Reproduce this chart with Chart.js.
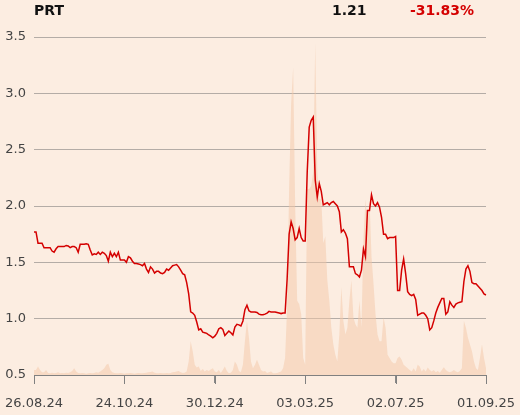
<!DOCTYPE html>
<html>
<head>
<meta charset="utf-8">
<script src="https://cdn.jsdelivr.net/npm/chart.js@4"></script>
<style>
  html, body { margin: 0; padding: 0; background: #fcede1; }
  #wrap { position: relative; width: 520px; height: 415px; }
  canvas { position: absolute; left: 0; top: 0; }
  .hdr { position: absolute; top: 1px; font-family: "DejaVu Sans", sans-serif; font-weight: bold; font-size: 14px; line-height: 18px; }
</style>
</head>
<body>
<div id="wrap">
  <canvas id="c" width="520" height="415"></canvas>
  <div class="hdr" id="sym" style="left:34px;color:#111;">PRT</div>
  <div class="hdr" id="last" style="left:332px;color:#111;">1.21</div>
  <div class="hdr" id="chg" style="left:410px;color:#d40000;">-31.83%</div>
</div>
<script>
const tickLabels = ["26.08.24", "24.10.24", "30.12.24", "03.03.25", "02.07.25", "01.09.25"];
const tickIndex = [0, 45, 90, 135, 180, 225];

const price = [
1.77,1.77,1.67,1.67,1.67,1.63,1.63,1.63,1.63,1.60,
1.59,1.62,1.64,1.64,1.64,1.64,1.65,1.645,1.63,1.64,
1.64,1.63,1.59,1.66,1.66,1.66,1.665,1.66,1.61,1.565,
1.575,1.57,1.59,1.57,1.59,1.58,1.56,1.51,1.59,1.55,
1.58,1.55,1.59,1.52,1.52,1.52,1.50,1.55,1.54,1.51,
1.49,1.49,1.485,1.48,1.47,1.49,1.44,1.41,1.46,1.44,
1.405,1.42,1.42,1.405,1.40,1.41,1.44,1.43,1.45,1.47,
1.475,1.48,1.46,1.43,1.40,1.39,1.32,1.22,1.06,1.05,
1.03,0.97,0.90,0.91,0.88,0.875,0.87,0.855,0.845,0.83,
0.845,0.87,0.91,0.92,0.905,0.85,0.87,0.89,0.875,0.855,
0.925,0.95,0.945,0.935,0.98,1.08,1.12,1.07,1.06,1.06,
1.06,1.055,1.04,1.035,1.035,1.04,1.05,1.065,1.06,1.06,
1.06,1.055,1.05,1.045,1.05,1.05,1.35,1.75,1.86,1.80,
1.70,1.72,1.80,1.72,1.69,1.69,2.30,2.70,2.76,2.79,
2.23,2.08,2.20,2.13,2.01,2.02,2.03,2.01,2.03,2.04,
2.02,2.00,1.95,1.77,1.79,1.76,1.71,1.46,1.46,1.46,
1.40,1.39,1.37,1.43,1.62,1.55,1.96,1.96,2.10,2.02,
2.00,2.03,1.99,1.90,1.75,1.75,1.71,1.72,1.72,1.72,
1.73,1.25,1.25,1.43,1.53,1.40,1.24,1.215,1.205,1.215,
1.17,1.03,1.04,1.05,1.05,1.03,1.00,0.90,0.92,0.98,
1.05,1.10,1.14,1.18,1.18,1.04,1.06,1.15,1.12,1.10,
1.13,1.14,1.145,1.15,1.33,1.44,1.47,1.42,1.32,1.31,
1.31,1.29,1.27,1.25,1.22,1.21
];

const volume = [
1.5,1.5,2.5,1.5,0.8,0.8,1.5,0.6,0.5,0.7,
0.5,0.6,0.8,0.5,0.6,0.5,0.7,0.6,0.8,1.2,
2.0,1.0,0.6,0.5,0.6,0.5,0.4,0.5,0.6,0.5,
0.6,0.8,0.7,1.0,1.5,2.0,3.0,3.3,1.5,0.8,
0.6,0.5,0.5,0.6,0.5,0.4,0.5,0.5,0.6,0.5,
0.4,0.5,0.6,0.5,0.5,0.6,0.7,0.8,0.9,1.0,
0.7,0.5,0.5,0.6,0.5,0.5,0.6,0.5,0.6,0.8,
0.9,1.0,1.2,0.8,0.6,0.7,1.0,4.0,10.0,7.0,
3.0,2.2,2.5,1.2,1.8,1.0,1.5,1.2,1.6,2.0,
1.0,0.8,1.5,0.6,1.5,2.5,1.2,0.5,0.7,1.5,
4.0,3.0,1.2,0.8,3.0,10.0,16.0,11.0,4.0,2.0,
3.0,4.5,3.0,1.5,1.0,1.2,0.6,0.8,1.0,0.5,
0.5,0.6,0.8,1.0,2.0,5.0,20.0,55.0,80.0,91.0,
50.0,22.0,21.0,18.0,5.0,3.0,55.0,55.0,56.0,60.0,
98.0,60.0,52.0,52.0,39.0,41.0,28.0,22.0,14.0,9.0,
6.0,4.0,12.0,26.0,16.0,12.0,14.0,22.0,28.0,17.0,
15.0,14.0,22.0,14.0,40.0,52.0,44.0,52.0,35.0,27.0,
18.0,12.0,10.0,10.0,17.0,14.0,6.0,5.0,4.0,3.5,
3.5,5.0,5.5,4.5,3.0,2.5,2.0,1.5,1.0,2.0,
1.0,3.0,2.5,1.0,1.8,1.0,2.2,1.5,1.0,1.5,
0.8,1.2,0.7,1.5,2.3,1.5,1.0,0.8,1.0,1.5,
1.0,0.8,1.2,2.0,16.0,14.0,11.0,9.0,7.0,4.0,
2.0,1.5,5.0,9.0,5.0,2.0
];

const labels = price.map((_, i) => i);
const tickFont = { family: "DejaVu Sans", size: 13 };

// Reinforces the x-axis tick marks at the x scale's own tick positions
const xTickMarks = {
  id: 'xTickMarks',
  afterDraw(chart) {
    const s = chart.scales.x;
    const ctx = chart.ctx;
    ctx.save();
    ctx.strokeStyle = '#808080';
    ctx.lineWidth = 1;
    ctx.beginPath();
    s.ticks.forEach((t) => {
      const px = Math.round(s.getPixelForValue(t.value)) + 0.5;
      ctx.moveTo(px, s.top);
      ctx.lineTo(px, s.top + 9);
    });
    ctx.moveTo(s.left, Math.round(s.top) + 0.5);
    ctx.lineTo(s.right, Math.round(s.top) + 0.5);
    ctx.stroke();
    ctx.restore();
  }
};

new Chart(document.getElementById('c'), {
  type: 'line',
  data: {
    labels: labels,
    datasets: [
      { label: 'PRT', data: price, yAxisID: 'y', borderColor: '#d40000', borderWidth: 1.5,
        pointRadius: 0, tension: 0, fill: false, order: 1 },
      { label: 'Volume', data: volume, yAxisID: 'v', borderWidth: 0, borderColor: 'rgba(0,0,0,0)',
        backgroundColor: 'rgba(244,200,168,0.5)', pointRadius: 0, tension: 0, fill: 'origin', order: 2 }
    ]
  },
  plugins: [xTickMarks],
  options: {
    responsive: false,
    animation: false,
    events: [],
    layout: { padding: { left: 0, right: 34, top: 37, bottom: 0 } },
    plugins: { legend: { display: false }, tooltip: { enabled: false } },
    scales: {
      x: {
        type: 'category',
        offset: false,
        afterBuildTicks: (s) => { s.ticks = tickIndex.map(v => ({ value: v })); },
        afterFit: (s) => { s.height = 40; s.paddingLeft = 0; s.paddingRight = 0; },
        ticks: { autoSkip: false, maxRotation: 0, color: '#444', font: tickFont, padding: 13,
          callback: (v, i) => tickLabels[i] },
        grid: { drawOnChartArea: false, drawTicks: true, tickLength: 8, color: '#888' },
        border: { display: true, color: '#888', width: 1 }
      },
      y: {
        position: 'left', min: 0.5, max: 3.5,
        afterFit: (s) => { s.width = 34; },
        ticks: { stepSize: 0.5, color: '#444', font: tickFont, padding: 8, callback: (v) => v.toFixed(1) },
        grid: { color: '#b4aca6', drawTicks: false, lineWidth: 1 },
        border: { display: false }
      },
      v: { display: false, min: 0, max: 100 }
    }
  }
});
</script>
</body>
</html>
